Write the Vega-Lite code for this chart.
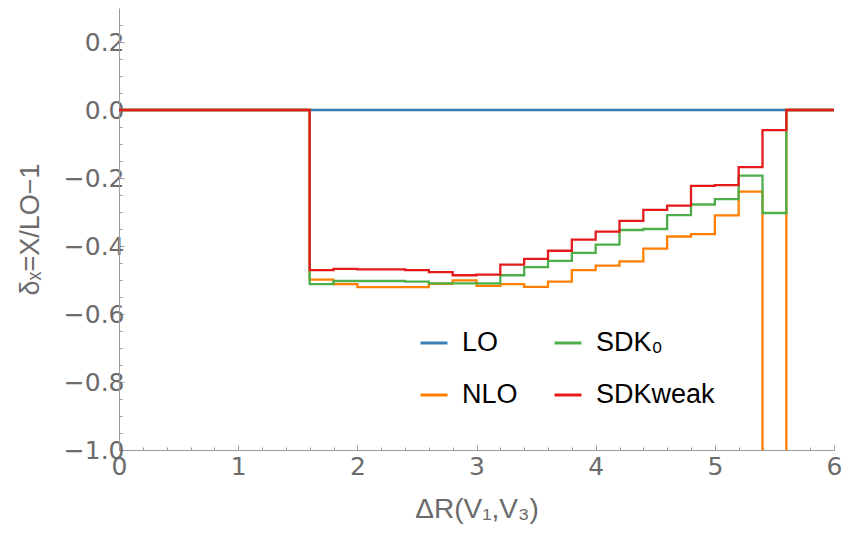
{
  "$schema": "https://vega.github.io/schema/vega-lite/v6.json",
  "width": 715,
  "height": 442,
  "autosize": {"type": "none"},
  "padding": {"left": 119, "top": 8, "right": 8, "bottom": 84},
  "background": "white",
  "config": {
    "view": {"stroke": null},
    "font": "Liberation Sans",
    "axis": {"grid": false, "domainColor": "#9a9a9a", "tickColor": "#9a9a9a", "labelColor": "#6b6b6b", "titleColor": "#6b6b6b", "labelFontSize": 25, "titleFontSize": 28, "titleFontWeight": "normal", "labelFont": "DejaVu Sans", "titleFont": "Liberation Sans"}
  },
  "data": {"values": [
    {"series": "LO", "x": 0, "y": 0},
    {"series": "LO", "x": 6, "y": 0},
    {"series": "NLO", "x": 0, "y": 0},
    {"series": "NLO", "x": 1.6, "y": -0.499},
    {"series": "NLO", "x": 1.8, "y": -0.512},
    {"series": "NLO", "x": 2.0, "y": -0.521},
    {"series": "NLO", "x": 2.2, "y": -0.521},
    {"series": "NLO", "x": 2.4, "y": -0.521},
    {"series": "NLO", "x": 2.6, "y": -0.511},
    {"series": "NLO", "x": 2.8, "y": -0.501},
    {"series": "NLO", "x": 3.0, "y": -0.517},
    {"series": "NLO", "x": 3.2, "y": -0.512},
    {"series": "NLO", "x": 3.4, "y": -0.520},
    {"series": "NLO", "x": 3.6, "y": -0.505},
    {"series": "NLO", "x": 3.8, "y": -0.471},
    {"series": "NLO", "x": 4.0, "y": -0.458},
    {"series": "NLO", "x": 4.2, "y": -0.445},
    {"series": "NLO", "x": 4.4, "y": -0.408},
    {"series": "NLO", "x": 4.6, "y": -0.372},
    {"series": "NLO", "x": 4.8, "y": -0.365},
    {"series": "NLO", "x": 5.0, "y": -0.310},
    {"series": "NLO", "x": 5.2, "y": -0.240},
    {"series": "NLO", "x": 5.4, "y": -1.3},
    {"series": "NLO", "x": 5.6, "y": 0},
    {"series": "NLO", "x": 6, "y": 0},
    {"series": "SDK₀", "x": 0, "y": 0},
    {"series": "SDK₀", "x": 1.6, "y": -0.512},
    {"series": "SDK₀", "x": 1.8, "y": -0.503},
    {"series": "SDK₀", "x": 2.0, "y": -0.503},
    {"series": "SDK₀", "x": 2.2, "y": -0.503},
    {"series": "SDK₀", "x": 2.4, "y": -0.505},
    {"series": "SDK₀", "x": 2.6, "y": -0.510},
    {"series": "SDK₀", "x": 2.8, "y": -0.510},
    {"series": "SDK₀", "x": 3.0, "y": -0.510},
    {"series": "SDK₀", "x": 3.2, "y": -0.486},
    {"series": "SDK₀", "x": 3.4, "y": -0.462},
    {"series": "SDK₀", "x": 3.6, "y": -0.444},
    {"series": "SDK₀", "x": 3.8, "y": -0.420},
    {"series": "SDK₀", "x": 4.0, "y": -0.396},
    {"series": "SDK₀", "x": 4.2, "y": -0.353},
    {"series": "SDK₀", "x": 4.4, "y": -0.350},
    {"series": "SDK₀", "x": 4.6, "y": -0.309},
    {"series": "SDK₀", "x": 4.8, "y": -0.278},
    {"series": "SDK₀", "x": 5.0, "y": -0.262},
    {"series": "SDK₀", "x": 5.2, "y": -0.193},
    {"series": "SDK₀", "x": 5.4, "y": -0.303},
    {"series": "SDK₀", "x": 5.6, "y": 0},
    {"series": "SDK₀", "x": 6, "y": 0},
    {"series": "SDKweak", "x": 0, "y": 0},
    {"series": "SDKweak", "x": 1.6, "y": -0.471},
    {"series": "SDKweak", "x": 1.8, "y": -0.467},
    {"series": "SDKweak", "x": 2.0, "y": -0.469},
    {"series": "SDKweak", "x": 2.2, "y": -0.469},
    {"series": "SDKweak", "x": 2.4, "y": -0.471},
    {"series": "SDKweak", "x": 2.6, "y": -0.477},
    {"series": "SDKweak", "x": 2.8, "y": -0.486},
    {"series": "SDKweak", "x": 3.0, "y": -0.484},
    {"series": "SDKweak", "x": 3.2, "y": -0.455},
    {"series": "SDKweak", "x": 3.4, "y": -0.438},
    {"series": "SDKweak", "x": 3.6, "y": -0.414},
    {"series": "SDKweak", "x": 3.8, "y": -0.381},
    {"series": "SDKweak", "x": 4.0, "y": -0.358},
    {"series": "SDKweak", "x": 4.2, "y": -0.326},
    {"series": "SDKweak", "x": 4.4, "y": -0.294},
    {"series": "SDKweak", "x": 4.6, "y": -0.281},
    {"series": "SDKweak", "x": 4.8, "y": -0.223},
    {"series": "SDKweak", "x": 5.0, "y": -0.221},
    {"series": "SDKweak", "x": 5.2, "y": -0.168},
    {"series": "SDKweak", "x": 5.4, "y": -0.059},
    {"series": "SDKweak", "x": 5.6, "y": 0},
    {"series": "SDKweak", "x": 6, "y": 0}
  ]},
  "layer": [
    {
      "mark": {"type": "line", "interpolate": "step-after", "clip": true, "strokeWidth": 2.3},
      "encoding": {
        "x": {"field": "x", "type": "quantitative", "scale": {"domain": [0, 6], "nice": false, "zero": false},
          "axis": {"orient": "bottom", "values": [0, 1, 2, 3, 4, 5, 6], "format": "d", "tickSize": -5, "labelPadding": 9, "labelFont": "DejaVu Sans", "labelFontSize": 25, "title": "ΔR(V₁,V₃)", "titlePadding": 16, "labelFlush": false}},
        "y": {"field": "y", "type": "quantitative", "scale": {"domain": [-1, 0.3], "nice": false, "zero": false},
          "axis": {"orient": "left", "values": [-1, -0.8, -0.6, -0.4, -0.2, 0, 0.2], "labelExpr": "replace(format(datum.value, '.1f'), '-', '−')", "labelFont": "DejaVu Sans", "labelFontSize": 25, "tickSize": -5, "labelPadding": 0, "title": "δₓ=X/LO−1", "titleFontSize": 27, "titleX": -75}},
        "color": {"field": "series", "type": "nominal",
          "scale": {"domain": ["LO", "NLO", "SDK₀", "SDKweak"], "range": ["#377eb8", "#ff7f00", "#4daf4a", "#e41a1c"]},
          "legend": {"orient": "none", "legendX": 300, "legendY": 320, "columns": 2, "title": null, "padding": 0,
            "symbolType": "stroke", "symbolSize": 729, "symbolStrokeWidth": 3, "labelFontSize": 27, "labelColor": "black",
            "labelFont": "Liberation Sans", "labelOffset": 13, "columnPadding": 30, "rowPadding": 24}}
      }
    },
    {
      "mark": {"type": "point", "opacity": 0},
      "encoding": {
        "x": {"field": "x", "type": "quantitative",
          "axis": {"orient": "bottom", "values": [0.2,0.4,0.6,0.8,1.2,1.4,1.6,1.8,2.2,2.4,2.6,2.8,3.2,3.4,3.6,3.8,4.2,4.4,4.6,4.8,5.2,5.4,5.6,5.8], "labels": false, "domain": false, "tickSize": -3, "title": null}},
        "y": {"field": "y", "type": "quantitative",
          "axis": {"orient": "left", "values": [-0.95,-0.9,-0.85,-0.75,-0.7,-0.65,-0.55,-0.5,-0.45,-0.35,-0.3,-0.25,-0.15,-0.1,-0.05,0.05,0.1,0.15,0.25], "labels": false, "domain": false, "tickSize": -3, "title": null}}
      }
    }
  ],
  "resolve": {"axis": {"x": "independent", "y": "independent"}}
}
